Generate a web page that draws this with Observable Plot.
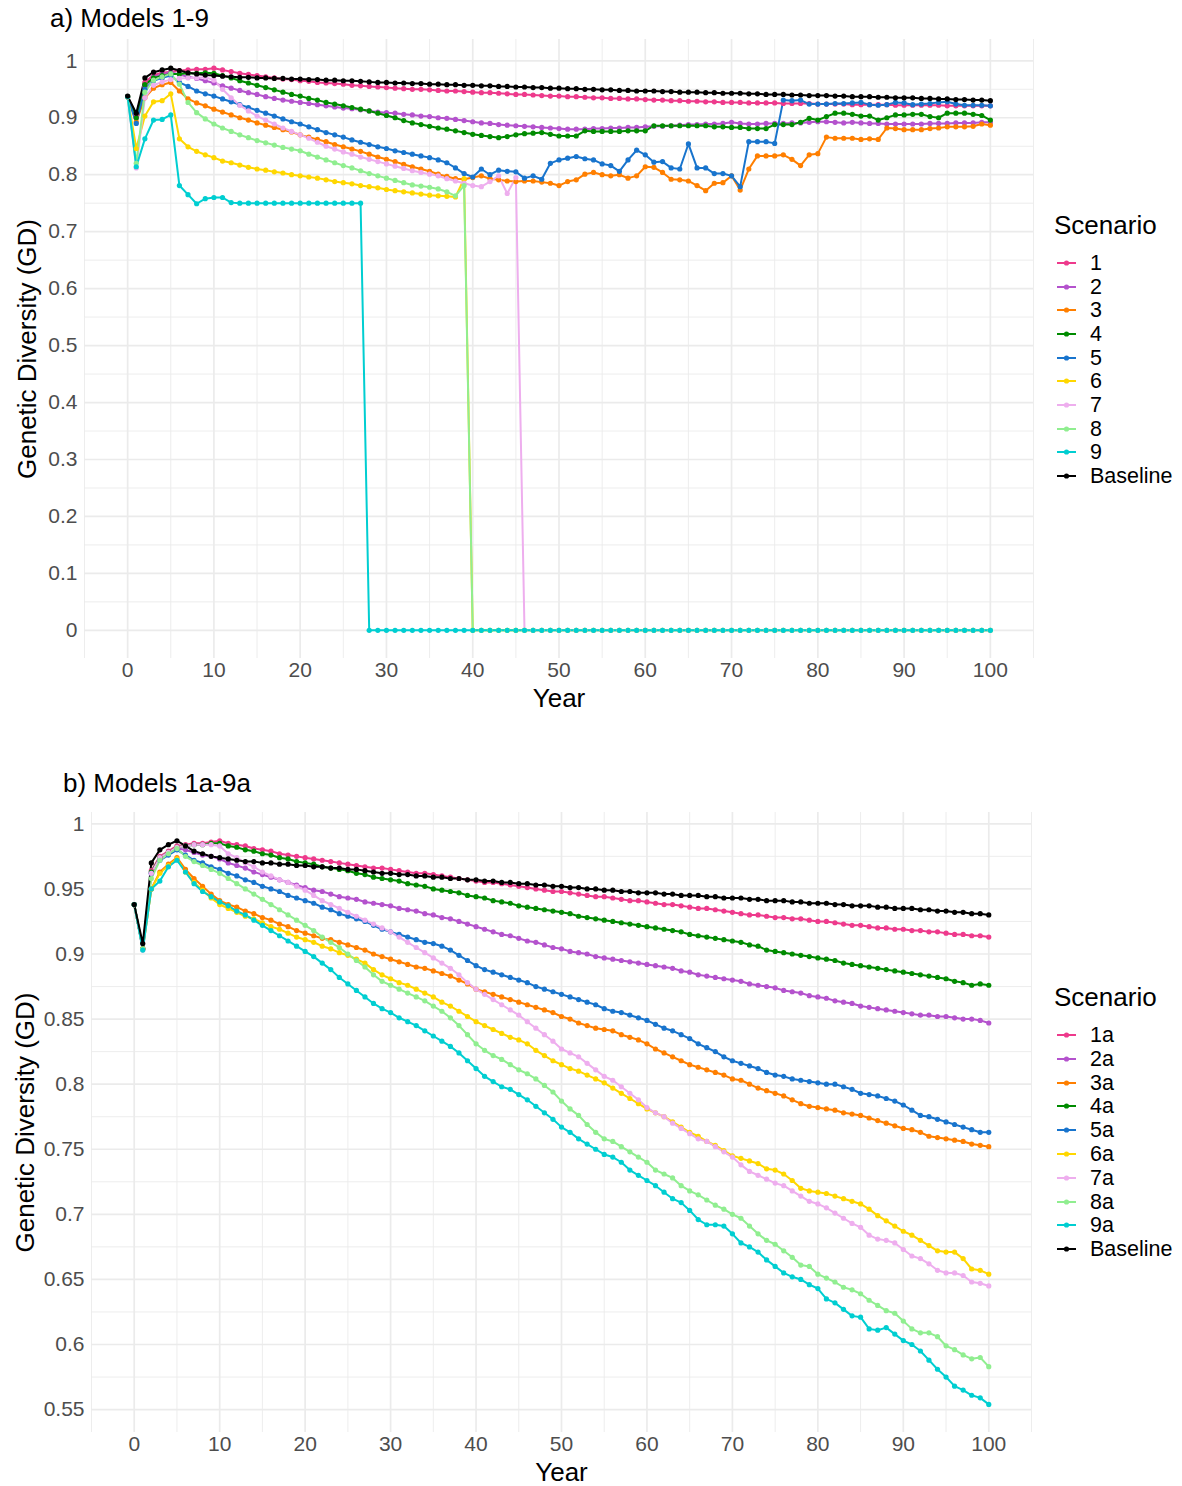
<!DOCTYPE html>
<html><head><meta charset="utf-8">
<script src="https://cdn.jsdelivr.net/npm/d3@7"></script>
<script src="https://cdn.jsdelivr.net/npm/@observablehq/plot@0.6"></script>
<style>
body{margin:0;background:#fff;font-family:"Liberation Sans",Arial,sans-serif;}
#wrap{position:relative;width:1182px;height:1486px;background:#fff;overflow:hidden;}
.abs{position:absolute;white-space:nowrap;color:#000;}
.ptitle{font-size:26px;line-height:30px;}
.ltitle{font-size:26px;line-height:30px;}
.llab{font-size:21.5px;line-height:24px;}
</style></head><body><div id="wrap"></div>
<script>
// ---------- shared ----------
const years = d3.range(0, 101);
const xTicks = [0,10,20,30,40,50,60,70,80,90,100];
const xMinor = [-5,5,15,25,35,45,55,65,75,85,95,105];
const yTicksA = [0,0.1,0.2,0.3,0.4,0.5,0.6,0.7,0.8,0.9,1];
const yMinorA = [0.05,0.15,0.25,0.35,0.45,0.55,0.65,0.75,0.85,0.95];
const yTicksB = [0.55,0.6,0.65,0.7,0.75,0.8,0.85,0.9,0.95,1];
const yMinorB = [0.575,0.625,0.675,0.725,0.775,0.825,0.875,0.925,0.975];
const scenariosA = ["1","2","3","4","5","6","7","8","9","Baseline"];
const scenariosB = ["1a","2a","3a","4a","5a","6a","7a","8a","9a","Baseline"];
const palette = ["#EE3A8C","#B452CD","#FF7F00","#008B00","#1874CD","#FFD700","#EEAEEE","#90EE90","#00CED1","#000000"];

const baseline = [.938,.908,.970,.980,.984,.987,.983,.979,.977,.975,
.974,.973,.972,.971,.971,.970,.970,.969,.969,.968,
.968,.967,.967,.966,.966,.965,.965,.964,.963,.962,
.962,.961,.961,.960,.960,.959,.959,.958,.958,.957,
.957,.956,.956,.955,.955,.954,.954,.953,.953,.952,
.952,.951,.951,.950,.950,.949,.949,.948,.948,.947,
.947,.947,.946,.946,.945,.945,.945,.944,.944,.943,
.943,.943,.942,.942,.941,.941,.941,.940,.940,.939,
.939,.939,.938,.938,.937,.937,.937,.936,.936,.935,
.935,.935,.934,.934,.933,.933,.932,.932,.931,.931,
.930];

// ---------- panel a: models 1-9 ----------
const gdA1 = [.937,.905,.962,.975,.979,.981,.983,.984,.985,.985,
.987,.984,.981,.978,.976,.974,.972,.970,.968,.967,
.965,.964,.962,.961,.960,.959,.957,.956,.955,.954,
.953,.952,.951,.950,.950,.949,.948,.947,.947,.946,
.945,.944,.944,.943,.942,.941,.941,.940,.939,.938,
.938,.937,.937,.936,.935,.935,.934,.934,.933,.933,
.932,.931,.931,.930,.930,.929,.929,.928,.928,.927,
.927,.927,.926,.926,.926,.926,.925,.925,.925,.925,
.924,.924,.924,.924,.923,.923,.923,.923,.923,.922,
.922,.922,.922,.922,.922,.921,.921,.921,.921,.921,
.921];
const gdA2 = [.937,.900,.955,.972,.976,.980,.976,.972,.969,.965,
.961,.956,.952,.948,.944,.941,.937,.934,.931,.929,
.927,.925,.923,.921,.919,.917,.916,.914,.912,.910,
.909,.908,.906,.905,.903,.902,.900,.899,.897,.895,
.893,.891,.890,.888,.887,.886,.885,.884,.883,.882,
.881,.880,.880,.880,.881,.881,.882,.882,.883,.883,
.884,.885,.885,.886,.887,.888,.888,.889,.889,.890,
.892,.890,.889,.889,.890,.890,.890,.891,.891,.892,
.893,.893,.892,.891,.892,.891,.890,.890,.889,.889,
.889,.889,.889,.890,.890,.890,.891,.891,.891,.892,
.892];
const gdA3 = [.937,.893,.935,.952,.958,.962,.947,.933,.926,.921,
.915,.910,.905,.900,.896,.891,.887,.883,.879,.875,
.870,.866,.862,.858,.853,.849,.845,.841,.836,.831,
.827,.823,.818,.814,.810,.806,.801,.797,.793,.792,
.795,.798,.793,.791,.789,.788,.789,.789,.787,.785,
.781,.788,.791,.801,.804,.800,.798,.800,.794,.798,
.814,.813,.804,.792,.791,.789,.781,.772,.785,.786,
.798,.773,.810,.833,.833,.833,.835,.827,.816,.835,
.837,.866,.864,.864,.864,.862,.863,.862,.882,.881,
.879,.879,.879,.881,.882,.884,.884,.884,.885,.889,
.887];
const gdA4 = [.937,.900,.958,.970,.974,.977,.977,.978,.978,.979,
.978,.974,.970,.965,.961,.957,.953,.949,.945,.941,
.938,.934,.931,.927,.924,.921,.918,.915,.912,.908,
.904,.900,.895,.891,.888,.885,.882,.880,.877,.874,
.871,.869,.867,.865,.867,.870,.872,.873,.874,.871,
.868,.868,.868,.877,.876,.876,.876,.876,.877,.877,
.877,.886,.886,.886,.886,.886,.886,.886,.884,.884,
.883,.883,.881,.881,.881,.888,.888,.888,.892,.899,
.896,.902,.908,.908,.906,.903,.903,.896,.900,.905,
.905,.906,.906,.902,.900,.908,.908,.908,.906,.904,
.896];
const gdA5 = [.937,.890,.950,.965,.970,.974,.962,.955,.947,.942,
.938,.933,.928,.923,.918,.913,.908,.903,.898,.893,
.889,.884,.879,.874,.870,.866,.861,.857,.853,.849,
.846,.842,.839,.836,.833,.830,.826,.821,.812,.802,
.796,.810,.800,.808,.806,.805,.794,.798,.792,.820,
.826,.829,.832,.828,.826,.819,.816,.806,.826,.843,
.835,.822,.823,.812,.810,.854,.812,.812,.802,.802,
.798,.779,.858,.858,.858,.855,.931,.930,.931,.924,
.924,.924,.925,.925,.926,.927,.923,.922,.923,.927,
.926,.923,.924,.925,.927,.928,.924,.922,.922,.922,
.921];
const gdA6 = [.937,.846,.903,.928,.930,.942,.863,.849,.841,.835,
.830,.824,.821,.817,.813,.810,.808,.805,.803,.800,
.798,.796,.794,.791,.788,.786,.784,.781,.779,.777,
.774,.772,.770,.768,.766,.764,.763,.762,.761,.793,
0,0,0,0,0,0,0,0,0,0,
0,0,0,0,0,0,0,0,0,0,
0,0,0,0,0,0,0,0,0,0,
0,0,0,0,0,0,0,0,0,0,
0,0,0,0,0,0,0,0,0,0,
0,0,0,0,0,0,0,0,0,0,
0];
const gdA7 = [.937,.812,.935,.957,.963,.967,.969,.970,.970,.971,
.966,.950,.935,.922,.912,.903,.896,.889,.882,.876,
.870,.864,.857,.850,.845,.840,.836,.831,.827,.823,
.819,.815,.811,.807,.804,.801,.798,.793,.789,.785,
.781,.779,.788,.798,.767,.795,0,0,0,0,
0,0,0,0,0,0,0,0,0,0,
0,0,0,0,0,0,0,0,0,0,
0,0,0,0,0,0,0,0,0,0,
0,0,0,0,0,0,0,0,0,0,
0,0,0,0,0,0,0,0,0,0,
0];
const gdA8 = [.937,.820,.945,.966,.972,.977,.959,.927,.909,.898,
.889,.882,.876,.870,.865,.860,.856,.852,.848,.845,
.842,.836,.831,.826,.821,.816,.812,.807,.802,.798,
.794,.790,.786,.782,.780,.778,.775,.770,.763,.781,
0,0,0,0,0,0,0,0,0,0,
0,0,0,0,0,0,0,0,0,0,
0,0,0,0,0,0,0,0,0,0,
0,0,0,0,0,0,0,0,0,0,
0,0,0,0,0,0,0,0,0,0,
0,0,0,0,0,0,0,0,0,0,
0];
const gdA9 = [.937,.814,.863,.896,.897,.905,.781,.765,.749,.758,
.760,.760,.751,.750,.750,.750,.750,.750,.750,.750,
.750,.750,.750,.750,.750,.750,.750,.750,0,0,
0,0,0,0,0,0,0,0,0,0,
0,0,0,0,0,0,0,0,0,0,
0,0,0,0,0,0,0,0,0,0,
0,0,0,0,0,0,0,0,0,0,
0,0,0,0,0,0,0,0,0,0,
0,0,0,0,0,0,0,0,0,0,
0,0,0,0,0,0,0,0,0,0,
0];

// ---------- panel b: models 1a-9a ----------
const gdB1 = [.938,.904,.964,.975,.979,.983,.984,.985,.985,.986,
.987,.985,.984,.983,.981,.980,.979,.977,.976,.975,
.974,.973,.972,.971,.970,.969,.968,.967,.966,.966,
.965,.964,.963,.962,.962,.961,.960,.959,.958,.957,
.956,.955,.955,.954,.953,.952,.951,.950,.949,.948,
.948,.947,.946,.945,.944,.944,.943,.942,.941,.941,
.940,.939,.938,.938,.937,.936,.935,.935,.934,.933,
.932,.931,.930,.930,.929,.928,.928,.927,.927,.926,
.925,.925,.924,.923,.922,.922,.921,.920,.920,.919,
.919,.918,.918,.917,.917,.916,.915,.915,.914,.914,
.913];
const gdB2 = [.938,.904,.962,.973,.977,.981,.980,.978,.976,.975,
.973,.970,.968,.966,.963,.961,.959,.957,.955,.953,
.951,.949,.948,.946,.944,.943,.942,.940,.939,.938,
.937,.935,.934,.933,.931,.930,.928,.927,.925,.923,
.921,.919,.917,.915,.914,.912,.910,.909,.907,.905,
.904,.902,.901,.900,.898,.897,.896,.895,.894,.893,
.892,.891,.890,.889,.887,.886,.884,.883,.882,.881,
.880,.879,.877,.876,.875,.874,.872,.871,.870,.868,
.867,.866,.864,.863,.862,.860,.859,.858,.857,.856,
.855,.854,.853,.853,.852,.852,.851,.850,.850,.849,
.847];
const gdB3 = [.938,.904,.950,.963,.969,.974,.965,.958,.952,.946,
.941,.938,.936,.933,.931,.928,.926,.923,.921,.918,
.916,.914,.912,.911,.909,.907,.905,.903,.900,.898,
.896,.894,.892,.890,.889,.887,.885,.883,.880,.877,
.873,.871,.869,.867,.865,.863,.861,.859,.857,.855,
.852,.850,.847,.845,.843,.842,.841,.838,.836,.834,
.831,.827,.824,.821,.818,.815,.813,.811,.809,.807,
.804,.803,.800,.797,.795,.793,.791,.788,.785,.783,
.782,.781,.780,.778,.777,.776,.774,.772,.770,.768,
.766,.765,.763,.760,.759,.758,.757,.756,.754,.753,
.752];
const gdB4 = [.938,.904,.963,.974,.978,.982,.983,.984,.984,.985,
.985,.983,.982,.980,.979,.977,.976,.974,.973,.971,
.970,.969,.967,.966,.965,.964,.962,.961,.959,.958,
.957,.956,.954,.953,.952,.950,.949,.948,.947,.945,
.944,.943,.941,.940,.939,.937,.936,.935,.934,.933,
.932,.931,.929,.928,.927,.926,.925,.924,.923,.922,
.921,.920,.919,.918,.917,.915,.914,.913,.912,.911,
.910,.909,.907,.906,.903,.902,.901,.900,.899,.898,
.897,.896,.895,.893,.892,.891,.890,.889,.888,.887,
.886,.885,.884,.883,.882,.881,.879,.878,.876,.877,
.876];
const gdB5 = [.938,.904,.962,.972,.976,.980,.976,.972,.970,.967,
.965,.962,.960,.957,.955,.952,.950,.948,.945,.943,
.941,.939,.936,.934,.931,.929,.927,.925,.922,.919,
.917,.915,.913,.911,.909,.908,.906,.903,.899,.895,
.891,.888,.886,.884,.882,.880,.878,.875,.873,.871,
.869,.867,.865,.863,.861,.858,.856,.855,.853,.851,
.849,.846,.843,.841,.838,.835,.831,.828,.825,.821,
.818,.816,.814,.812,.809,.807,.806,.804,.803,.802,
.801,.800,.800,.798,.796,.793,.792,.791,.789,.787,
.784,.780,.776,.775,.773,.771,.769,.767,.765,.763,
.763];
const gdB6 = [.938,.904,.950,.962,.968,.973,.963,.955,.949,.943,
.938,.935,.932,.929,.927,.924,.921,.919,.916,.913,
.911,.909,.906,.904,.901,.899,.896,.893,.888,.884,
.881,.878,.876,.873,.870,.867,.863,.860,.856,.852,
.848,.845,.842,.839,.836,.834,.831,.826,.822,.818,
.815,.812,.810,.807,.804,.801,.797,.793,.789,.785,
.781,.778,.775,.771,.767,.763,.760,.756,.753,.749,
.745,.743,.741,.739,.735,.734,.731,.726,.720,.718,
.717,.716,.714,.712,.710,.708,.704,.699,.695,.691,
.687,.684,.680,.676,.672,.671,.671,.666,.658,.657,
.654];
const gdB7 = [.938,.903,.962,.974,.978,.982,.983,.984,.984,.984,
.983,.977,.974,.970,.967,.963,.960,.957,.955,.952,
.949,.945,.941,.938,.935,.932,.929,.926,.923,.920,
.917,.913,.909,.905,.901,.897,.893,.889,.884,.878,
.873,.869,.865,.861,.857,.853,.848,.843,.838,.833,
.827,.824,.821,.816,.811,.806,.803,.798,.793,.788,
.782,.778,.775,.770,.766,.762,.758,.756,.752,.748,
.744,.738,.733,.730,.727,.724,.722,.718,.714,.710,
.708,.705,.701,.697,.693,.690,.684,.681,.680,.678,
.673,.668,.666,.662,.657,.655,.655,.653,.648,.647,
.645];
const gdB8 = [.938,.904,.958,.972,.977,.981,.975,.971,.968,.965,
.962,.958,.954,.950,.946,.942,.938,.934,.930,.926,
.922,.918,.913,.909,.905,.900,.895,.890,.884,.879,
.876,.873,.870,.867,.864,.860,.856,.851,.845,.838,
.831,.826,.822,.819,.815,.811,.808,.804,.799,.794,
.787,.781,.776,.769,.763,.758,.756,.752,.748,.744,
.740,.734,.731,.728,.722,.718,.715,.711,.707,.704,
.700,.697,.691,.685,.680,.677,.672,.667,.661,.660,
.654,.651,.648,.644,.642,.639,.634,.630,.626,.624,
.618,.612,.609,.609,.606,.599,.596,.592,.589,.590,
.583];
const gdB9 = [.938,.903,.950,.956,.967,.972,.963,.954,.948,.944,
.940,.937,.933,.930,.926,.922,.918,.914,.910,.906,
.902,.898,.893,.888,.882,.877,.872,.867,.862,.858,
.855,.851,.848,.845,.841,.837,.833,.829,.824,.818,
.812,.806,.802,.798,.796,.792,.788,.783,.778,.773,
.767,.763,.758,.754,.750,.746,.744,.740,.734,.730,
.726,.722,.717,.712,.709,.703,.696,.692,.692,.691,
.685,.678,.675,.671,.665,.660,.655,.652,.650,.646,
.643,.635,.632,.627,.622,.621,.612,.611,.613,.608,
.603,.600,.595,.588,.581,.575,.568,.565,.561,.559,
.554];

const seriesA = [gdA1,gdA2,gdA3,gdA4,gdA5,gdA6,gdA7,gdA8,gdA9,baseline];
const seriesB = [gdB1,gdB2,gdB3,gdB4,gdB5,gdB6,gdB7,gdB8,gdB9,baseline];

function tidy(names, list) {
  const out = [];
  names.forEach((n, i) => list[i].forEach((v, j) => out.push({year: years[j], gd: v, scenario: n})));
  return out;
}

const fmt = d3.format("~g");
const font = "Liberation Sans, Arial, sans-serif";

function panel(cfg) {
  const data = tidy(cfg.names, cfg.series);
  return Plot.plot({
    width: 1040, height: cfg.height,
    marginTop: cfg.mt, marginBottom: cfg.mb, marginLeft: cfg.ml, marginRight: cfg.mr,
    style: {fontFamily: font, background: "white", overflow: "visible"},
    x: {domain: [-5, 105]},
    y: {domain: cfg.yDomain},
    color: {domain: cfg.names, range: palette},
    marks: [
      Plot.ruleX(xMinor, {stroke: "#EBEBEB", strokeWidth: 0.9}),
      Plot.ruleY(cfg.yMinor, {stroke: "#EBEBEB", strokeWidth: 0.9}),
      Plot.ruleX(xTicks, {stroke: "#EBEBEB", strokeWidth: 1.7}),
      Plot.ruleY(cfg.yTicks, {stroke: "#EBEBEB", strokeWidth: 1.7}),
      Plot.axisX(xTicks, {tickSize: 0, tickPadding: 4, fontSize: 21, fill: "#4D4D4D", label: null, tickFormat: d => String(d)}),
      Plot.axisY(cfg.yTicks, {tickSize: 0, tickPadding: 7, fontSize: 21, fill: "#4D4D4D", label: null, tickFormat: fmt}),
      Plot.text(["Year"], {text: d => d, frameAnchor: "bottom", dy: 40, fontSize: 26, fill: "#000", lineAnchor: "middle", textAnchor: "middle"}),
      Plot.text(["Genetic Diversity (GD)"], {text: d => d, frameAnchor: "left", dx: cfg.ytdx, rotate: -90, fontSize: 26, fill: "#000", lineAnchor: "middle", textAnchor: "middle"}),
      Plot.line(data, {x: "year", y: "gd", z: "scenario", stroke: "scenario", strokeWidth: 2, strokeLinejoin: "round"}),
      Plot.dot(data, {x: "year", y: "gd", fill: "scenario", r: 2.6})
    ]
  });
}

const wrap = document.getElementById("wrap");
function place(el, left, top) { el.style.position = "absolute"; el.style.left = left + "px"; el.style.top = top + "px"; wrap.appendChild(el); }
function textDiv(cls, txt, left, top) { const d = document.createElement("div"); d.className = "abs " + cls; d.textContent = txt; place(d, left, top); return d; }

function legend(names, titleCY, firstCY, step) {
  textDiv("ltitle", "Scenario", 1054, titleCY - 15);
  const ns = "http://www.w3.org/2000/svg";
  names.forEach((n, i) => {
    const cy = firstCY + step * i;
    const s = document.createElementNS(ns, "svg");
    s.setAttribute("width", 22); s.setAttribute("height", 12);
    const l = document.createElementNS(ns, "line");
    l.setAttribute("x1", 1); l.setAttribute("x2", 20); l.setAttribute("y1", 6); l.setAttribute("y2", 6);
    l.setAttribute("stroke", palette[i]); l.setAttribute("stroke-width", 2);
    const c = document.createElementNS(ns, "circle");
    c.setAttribute("cx", 10.5); c.setAttribute("cy", 6); c.setAttribute("r", 2.6); c.setAttribute("fill", palette[i]);
    s.appendChild(l); s.appendChild(c);
    place(s, 1056, cy - 6);
    textDiv("llab", n, 1090, cy - 12);
  });
}

// panel a
const svgA = panel({names: scenariosA, series: seriesA, height: 720, mt: 39, mb: 62, ml: 84, mr: 7,
  yDomain: [-0.0494, 1.0374], yTicks: yTicksA, yMinor: yMinorA, ytdx: -57});
place(svgA, 0, 0);
textDiv("ptitle", "a) Models 1-9", 50, 3);
legend(scenariosA, 225, 263, 23.67);

// panel b
const svgB = panel({names: scenariosB, series: seriesB, height: 715, mt: 41, mb: 54, ml: 91, mr: 9,
  yDomain: [0.5324, 1.0087], yTicks: yTicksB, yMinor: yMinorB, ytdx: -66});
place(svgB, 0, 771);
textDiv("ptitle", "b) Models 1a-9a", 63, 768);
legend(scenariosB, 997, 1035, 23.8);
</script>
</body></html>
